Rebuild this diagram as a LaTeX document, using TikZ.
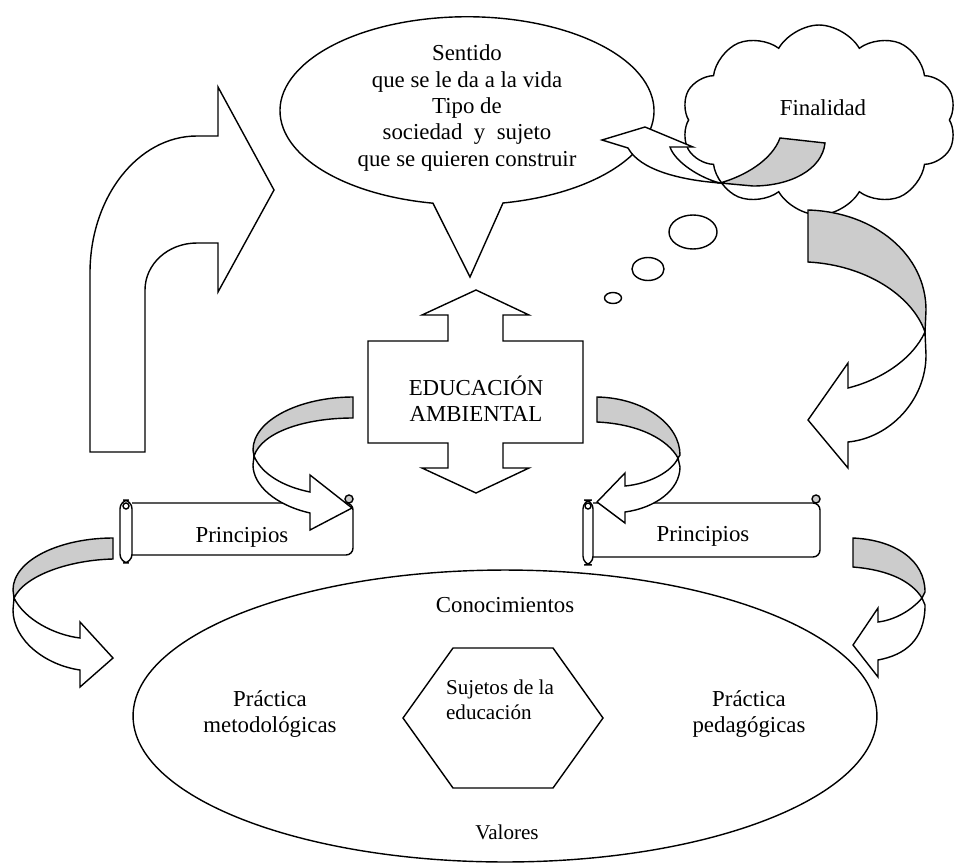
\documentclass[tikz,border=0pt]{standalone}
\usepackage{fontspec}
\setmainfont{Liberation Serif}
\usetikzlibrary{shapes.geometric,shapes.symbols}
\definecolor{ambientalGray}{RGB}{204,204,204}

\begin{document}
\begin{tikzpicture}[x=0.02cm, y=-0.02cm,
    shapeline/.style={draw=black, line width=0.8pt, fill=white},
    ribbonback/.style={draw=black, line width=0.8pt, fill=ambientalGray},
    bodytext/.style={font=\fontsize{13}{15}\selectfont, align=center, inner sep=0pt},
    smalltext/.style={font=\fontsize{12}{14}\selectfont, align=center, inner sep=0pt}]

    % Canvas
    \useasboundingbox[fill=white] (0,0) rectangle (959,865);

    % Bent arrow (left)
    \filldraw[shapeline] (90,452) -- (90,273) .. controls (90,197) and (138,136) .. (197,136) -- (218,136) -- (218,87) -- (274,190) -- (218,292) -- (218,243) -- (197,243) .. controls (168,243) and (145,264) .. (145,290) -- (145,452) -- cycle;

    % Speech bubble
    \filldraw[shapeline] (503,203) arc[start angle=78.9, end angle=-259.5, x radius=187, y radius=94] -- (470,277) -- cycle;
    \node[bodytext] (sentido) at (467,108) {Sentido\\que se le da a la vida\\Tipo de\\sociedad\ \ y\ \ sujeto\\que se quieren construir};

    % Cloud
    \node[cloud, shapeline, cloud puffs=10, cloud puff arc=120, minimum width=5.5cm, minimum height=3.8cm, inner sep=0pt] (nube) at (819,120) {};
    \node[bodytext] (finalidad) at (823,108) {Finalidad};

    % Thought bubbles
    \node[ellipse, shapeline, minimum width=0.96cm, minimum height=0.68cm, inner sep=0pt] (burbuja1) at (693,232) {};
    \node[ellipse, shapeline, minimum width=0.64cm, minimum height=0.46cm, inner sep=0pt] (burbuja2) at (648,269) {};
    \node[ellipse, shapeline, minimum width=0.34cm, minimum height=0.22cm, inner sep=0pt] (burbuja3) at (613,298) {};

    % Small ribbon arrow (cloud to bubble)
    \filldraw[ribbonback] (780,138) -- (825,143) .. controls (822,170) and (790,186) .. (753,186) -- (720,183) .. controls (745,176) and (772,160) .. (780,138) -- cycle;
    \filldraw[shapeline] (720,183) .. controls (680,180) and (640,170) .. (628,148) -- (602,140) -- (645,127) -- (693,147) -- (670,147) .. controls (675,162) and (700,178) .. (720,183) -- cycle;

    % Ribbon arrow (cloud down)
    \filldraw[ribbonback] (808,210) -- (808,262) .. controls (865,265) and (912,295) .. (925,332) -- (926,310) .. controls (926,255) and (875,212) .. (808,210) -- cycle;
    \filldraw[shapeline] (925,332) -- (926,355) .. controls (926,400) and (890,438) .. (848,442) -- (848,468) -- (808,420) -- (848,363) -- (848,388) .. controls (880,380) and (912,360) .. (925,332) -- cycle;

    % Principios (left)
    \filldraw[shapeline, rounded corners=4pt] (132,503) -- (353,503) -- (353,555) -- (132,555);
    \filldraw[shapeline, fill=ambientalGray] (349,499) circle[radius=4];
    \filldraw[shapeline, rounded corners=5pt] (120,500) rectangle (132,563);
    \draw[line width=0.8pt] (126,506) circle[radius=3];
    \node[bodytext] (principios1) at (242,537) {Principios};

    % Principios (right)
    \filldraw[shapeline, rounded corners=4pt] (593,503) -- (820,503) -- (820,557) -- (593,557);
    \filldraw[shapeline, fill=ambientalGray] (816,499) circle[radius=4];
    \filldraw[shapeline, rounded corners=5pt] (583,500) rectangle (593,565);
    \draw[line width=0.8pt] (588,506) circle[radius=3];
    \node[bodytext] (principios2) at (703,536) {Principios};

    % Ribbon arrows round the box
    \filldraw[ribbonback] (353,397) -- (353,418) .. controls (305,418) and (262,432) .. (254,456) -- (253,450) .. controls (253,420) and (300,397) .. (353,397) -- cycle;
    \filldraw[shapeline] (254,456) .. controls (262,475) and (285,487) .. (310,492) -- (310,475) -- (352,508) -- (310,530) -- (310,513) .. controls (275,505) and (253,485) .. (253,465) -- cycle;
    \filldraw[ribbonback] (597,397) -- (597,422) .. controls (640,424) and (668,440) .. (678,458) -- (680,455) .. controls (680,425) and (645,398) .. (597,397) -- cycle;
    \filldraw[shapeline] (678,458) .. controls (672,472) and (648,484) .. (625,486) -- (625,473) -- (597,502) -- (625,523) -- (625,512) .. controls (655,508) and (680,490) .. (680,467) -- cycle;

    % Ribbon arrows round the ellipse
    \filldraw[ribbonback] (113,538) -- (113,559) .. controls (70,560) and (25,575) .. (14,598) -- (13,590) .. controls (13,560) and (60,538) .. (113,538) -- cycle;
    \filldraw[shapeline] (14,598) .. controls (25,620) and (55,635) .. (80,638) -- (80,622) -- (113,658) -- (80,687) -- (80,670) .. controls (45,665) and (13,640) .. (13,610) -- cycle;
    \filldraw[ribbonback] (853,538) -- (853,567) .. controls (890,570) and (912,582) .. (922,598) -- (925,592) .. controls (925,560) and (895,540) .. (853,538) -- cycle;
    \filldraw[shapeline] (922,598) .. controls (912,610) and (895,620) .. (878,622) -- (878,608) -- (853,645) -- (878,677) -- (878,660) .. controls (905,655) and (925,640) .. (925,605) -- cycle;

    % Educacion ambiental
    \filldraw[shapeline] (368,341) -- (448,341) -- (448,315) -- (422,315) -- (476,290) -- (529,315) -- (503,315) -- (503,341) -- (583,341) -- (583,443) -- (503,443) -- (503,468) -- (529,468) -- (476,493) -- (422,468) -- (448,468) -- (448,443) -- (368,443) -- cycle;
    \node[bodytext] (educacion) at (476,399) {EDUCACIÓN\\AMBIENTAL};

    % Practicas
    \node[ellipse, shapeline, minimum width=14.88cm, minimum height=5.84cm, inner sep=0pt] (practicas) at (505,716) {};
    \node[bodytext] (conocimientos) at (505,605) {Conocimientos};
    \node[bodytext] (metodologicas) at (270,714) {Práctica\\metodológicas};
    \node[bodytext] (pedagogicas) at (749,714) {Práctica\\pedagógicas};
    \node[smalltext] (valores) at (507,832) {Valores};

    % Sujetos
    \filldraw[shapeline] (403,718) -- (453,648) -- (553,648) -- (603,718) -- (553,788) -- (453,788) -- cycle;
    \node[smalltext, align=left] (sujetos) at (500,700) {Sujetos de la\\educación};
\end{tikzpicture}
\end{document}
